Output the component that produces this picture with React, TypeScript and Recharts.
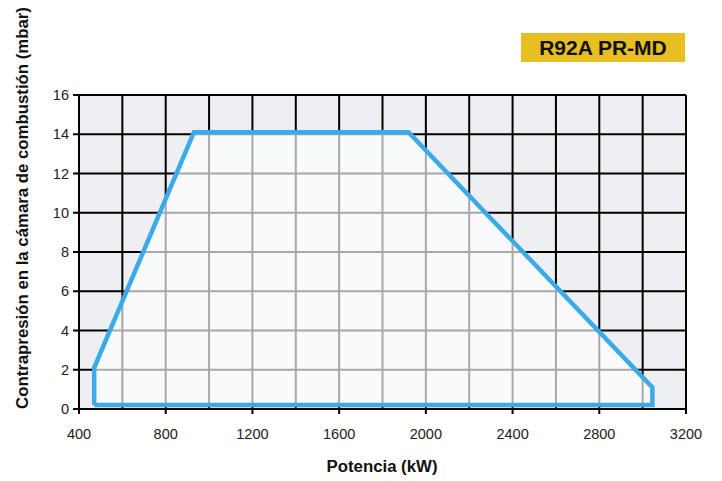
import React from 'react';
import { ComposedChart, Area, Line, XAxis, YAxis, CartesianGrid, Label } from 'recharts';

// outline of the working field (kW, mbar), in drawing order
const potencia = [470, 470, 930, 1920, 3045, 3045, 470];
const contrapresion = [0.2, 2.1, 14.1, 14.1, 1.1, 0.2, 0.2];

const xTicks = [400, 600, 800, 1000, 1200, 1400, 1600, 1800, 2000, 2200, 2400, 2600, 2800, 3000, 3200];
const yTicks = [0, 2, 4, 6, 8, 10, 12, 14, 16];

const chartData = potencia.map((kw, i) => ({ kw, mbar: contrapresion[i] }));

const FONT = '"Liberation Sans", Arial, Helvetica, sans-serif';
const BLUE = '#3aabe8';

// only every 400 kW gets a tick mark and a label, grid keeps every 200
const XTick = ({ x, y, payload }: any) => {
  if (payload.value % 400 !== 0) return null;
  return (
    <g>
      <line x1={x} x2={x} y1={y - 6} y2={y - 1} stroke="#000" strokeWidth={2} />
      <text x={x} y={y + 24} textAnchor="middle" fontSize={14.5} fill="#222" fontFamily={FONT}>
        {payload.value}
      </text>
    </g>
  );
};

export default function App() {
  return (
    <div style={{ position: 'absolute', left: 0, top: 0, width: 722, height: 481, background: '#fff' }}>
      <div
        style={{
          position: 'absolute',
          left: 521,
          top: 33,
          width: 164,
          height: 29,
          background: '#e8bf22',
          color: '#111',
          fontFamily: FONT,
          fontWeight: 'bold',
          fontSize: 21,
          lineHeight: '29px',
          textAlign: 'center',
        }}
      >
        R92A PR-MD
      </div>
      <ComposedChart
        width={722}
        height={481}
        data={chartData}
        margin={{ top: 95, right: 36, bottom: 0, left: 19 }}
      >
        <CartesianGrid stroke="#000" strokeWidth={2} fill="#eeeff2" fillOpacity={1} />
        <XAxis
          dataKey="kw"
          type="number"
          domain={[400, 3200]}
          ticks={xTicks}
          interval={0}
          axisLine={false}
          tickLine={false}
          tickSize={6}
          tickMargin={0}
          tick={<XTick />}
          height={72}
        >
          <Label
            content={() => (
              <text x={382} y={472} textAnchor="middle" fontSize={16.8} fontWeight="bold" fill="#111" fontFamily={FONT}>
                Potencia (kW)
              </text>
            )}
          />
        </XAxis>
        <YAxis
          type="number"
          domain={[0, 16]}
          ticks={yTicks}
          interval={0}
          width={60}
          axisLine={{ stroke: '#000', strokeWidth: 2 }}
          tickLine={{ stroke: '#000', strokeWidth: 2 }}
          tickSize={6}
          tickMargin={4}
          tick={{ fontSize: 14.5, fill: '#222', fontFamily: FONT }}
        >
          <Label
            content={() => (
              <text
                x={28}
                y={208}
                transform="rotate(-90 28 208)"
                textAnchor="middle"
                fontSize={16.8}
                fontWeight="bold"
                fill="#111"
                fontFamily={FONT}
              >
                Contrapresión en la cámara de combustión (mbar)
              </text>
            )}
          />
        </YAxis>
        <Area
          dataKey="mbar"
          type="linear"
          stroke="none"
          fill="#ffffff"
          fillOpacity={0.66}
          baseValue={0}
          isAnimationActive={false}
        />
        <Line
          dataKey="mbar"
          type="linear"
          stroke={BLUE}
          strokeWidth={4.5}
          strokeLinejoin="miter"
          dot={false}
          activeDot={false}
          isAnimationActive={false}
        />
      </ComposedChart>
    </div>
  );
}
